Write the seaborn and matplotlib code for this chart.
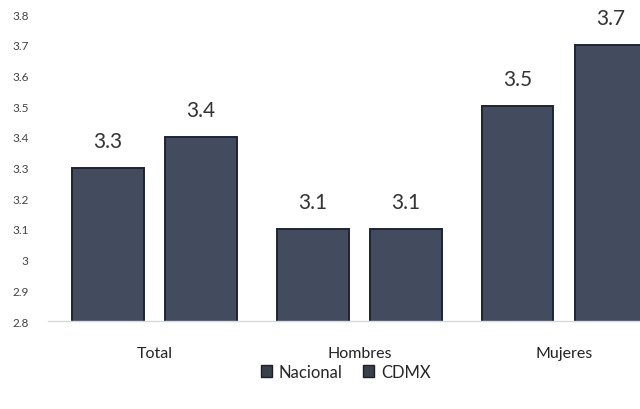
import pandas as pd
import numpy as np
import matplotlib.pyplot as plt
import seaborn as sns

# data
grupos = ["Total", "Hombres", "Mujeres"]
series = ["Nacional", "CDMX"]
nacional = [3.3, 3.1, 3.5]
cdmx = [3.4, 3.1, 3.7]
yticks = [2.8, 2.9, 3.0, 3.1, 3.2, 3.3, 3.4, 3.5, 3.6, 3.7, 3.8]
ytick_labels = ["2.8", "2.9", "3", "3.1", "3.2", "3.3", "3.4", "3.5", "3.6", "3.7", "3.8"]

df = pd.DataFrame({
    "grupo": grupos * 2,
    "serie": [series[0]] * 3 + [series[1]] * 3,
    "valor": nacional + cdmx,
})

sns.set_style("white")
plt.rcParams["font.family"] = ["Lato", "DejaVu Sans"]

bar_color = "#3f4963"
fig = plt.figure(figsize=(6.4, 4.1), dpi=100)
ax = fig.add_axes([0.075, 0.2146, 0.925, 0.7488])

sns.barplot(data=df, x="grupo", y="valor", hue="serie", palette=[bar_color, bar_color],
            width=0.91, gap=0.23, edgecolor="#1e2433", linewidth=1.4, ax=ax, legend=False)

for cont in ax.containers:
    ax.bar_label(cont, fmt="%.1f", padding=12, fontsize=15, color="#333333")

ax.set_ylim(2.8, 3.8)
ax.set_xlim(-0.52, 2.37)
ax.set_yticks(yticks)
ax.set_yticklabels(ytick_labels)
ax.tick_params(axis="y", labelsize=8.5, colors="#444444", pad=14, length=0)
ax.tick_params(axis="x", labelsize=11.5, colors="#222222", pad=18, length=0)
ax.set_xlabel("")
ax.set_ylabel("")
for s in ["top", "right", "left"]:
    ax.spines[s].set_visible(False)
ax.spines["bottom"].set_color("#d8d8d8")
ax.spines["bottom"].set_linewidth(1.0)

from matplotlib.patches import Patch
handles = [Patch(facecolor="#3a3f4c", edgecolor="#1c1f28") for _ in series]
fig.legend(handles, series, loc="center", bbox_to_anchor=(0.54, 0.09), ncol=2,
           frameon=False, fontsize=12, handlelength=0.7, handleheight=0.7,
           handletextpad=0.4, columnspacing=1.2)

fig.savefig("out.png", dpi=100)
